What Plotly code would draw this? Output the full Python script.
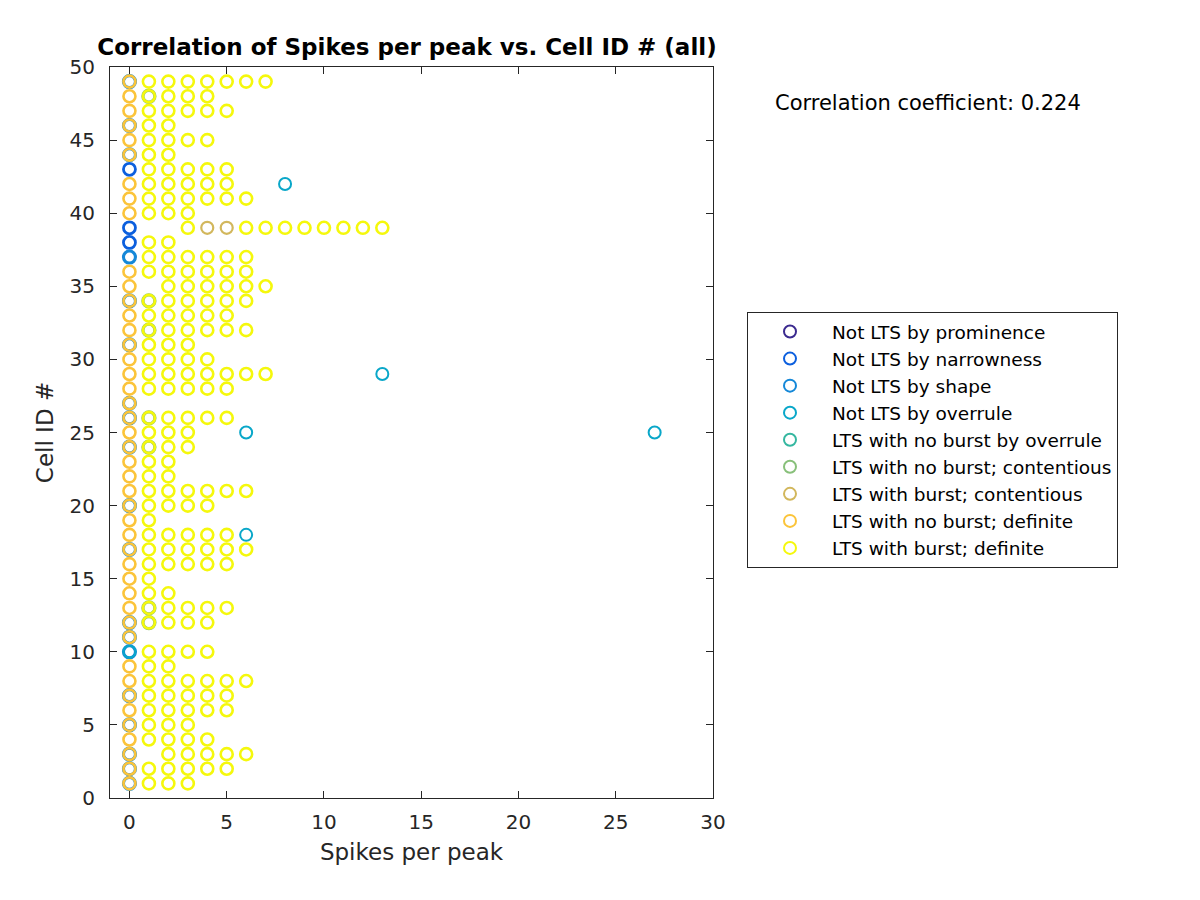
import plotly.graph_objects as go

# ---------------- data ----------------
category_names = [
    "Not LTS by prominence",
    "Not LTS by narrowness",
    "Not LTS by shape",
    "Not LTS by overrule",
    "LTS with no burst by overrule",
    "LTS with no burst; contentious",
    "LTS with burst; contentious",
    "LTS with no burst; definite",
    "LTS with burst; definite",
]
category_colors = ["#3b2a8f", "#0c5fde", "#1588d8", "#09a7c9", "#35b7a0",
                   "#88c07a", "#d2b75c", "#fbc43a", "#f5f80c"]

# Not LTS by prominence: none visible
prominence_x = []
prominence_id = []

# Not LTS by narrowness
narrowness_x = [0, 0, 0]
narrowness_id = [43, 39, 38]

# Not LTS by shape (mostly hidden under orange at x = 0)
shape_id = [1, 2, 3, 5, 7, 10, 11, 12, 17, 20, 24, 26, 27, 31, 34, 37, 44, 46, 49]
shape_x = [0] * len(shape_id)

# Not LTS by overrule
overrule_x = [8, 13, 6, 27, 6, 0]
overrule_id = [42, 29, 25, 25, 18, 10]

# LTS with no burst by overrule: none visible
lts_overrule_x = []
lts_overrule_id = []

# LTS with no burst; contentious
nb_contentious_id = [48, 34, 32, 26, 24, 13, 12]
nb_contentious_x = [1] * len(nb_contentious_id)

# LTS with burst; contentious
b_contentious_x = [4, 5]
b_contentious_id = [39, 39]

# LTS with no burst; definite (x = 0 column)
nb_definite_id = [i for i in range(1, 50) if i not in (10, 37, 38, 39, 43)]
nb_definite_x = [0] * len(nb_definite_id)

# LTS with burst; definite: spikes per peak values per cell ID
burst_definite_rows = {
    1: [1, 2, 3], 2: [1, 2, 3, 4, 5], 3: [2, 3, 4, 5, 6], 4: [1, 2, 3, 4],
    5: [1, 2, 3], 6: [1, 2, 3, 4, 5], 7: [1, 2, 3, 4, 5], 8: [1, 2, 3, 4, 5, 6],
    9: [1, 2], 10: [1, 2, 3, 4], 11: [], 12: [1, 2, 3, 4],
    13: [1, 2, 3, 4, 5], 14: [1, 2], 15: [1], 16: [1, 2, 3, 4, 5],
    17: [1, 2, 3, 4, 5, 6], 18: [1, 2, 3, 4, 5], 19: [1], 20: [1, 2, 3, 4],
    21: [1, 2, 3, 4, 5, 6], 22: [1, 2], 23: [1, 2], 24: [1, 2, 3],
    25: [1, 2, 3], 26: [1, 2, 3, 4, 5], 27: [], 28: [1, 2, 3, 4, 5],
    29: [1, 2, 3, 4, 5, 6, 7], 30: [1, 2, 3, 4], 31: [1, 2, 3],
    32: [1, 2, 3, 4, 5, 6], 33: [1, 2, 3, 4, 5], 34: [1, 2, 3, 4, 5, 6],
    35: [2, 3, 4, 5, 6, 7], 36: [1, 2, 3, 4, 5, 6], 37: [1, 2, 3, 4, 5, 6],
    38: [1, 2], 39: [3, 6, 7, 8, 9, 10, 11, 12, 13], 40: [1, 2, 3],
    41: [1, 2, 3, 4, 5, 6], 42: [1, 2, 3, 4, 5], 43: [1, 2, 3, 4, 5],
    44: [1, 2], 45: [1, 2, 3, 4], 46: [1, 2], 47: [1, 2, 3, 4, 5],
    48: [1, 2, 3, 4], 49: [1, 2, 3, 4, 5, 6, 7],
}
b_definite_x = [x for cid, xs in burst_definite_rows.items() for x in xs]
b_definite_id = [cid for cid, xs in burst_definite_rows.items() for x in xs]

correlation_text = "Correlation coefficient: 0.224"

# ---------------- figure ----------------
series = [
    (prominence_x, prominence_id),
    (narrowness_x, narrowness_id),
    (shape_x, shape_id),
    (overrule_x, overrule_id),
    (lts_overrule_x, lts_overrule_id),
    (nb_contentious_x, nb_contentious_id),
    (b_contentious_x, b_contentious_id),
    (nb_definite_x, nb_definite_id),
    (b_definite_x, b_definite_id),
]
line_widths = [2.5, 2.8, 3.1, 2.0, 2.0, 3.3, 2.2, 2.6, 2.6]

fig = go.Figure()
for name, color, lw, (xs, ys) in zip(category_names, category_colors, line_widths, series):
    fig.add_trace(go.Scatter(
        x=xs if xs else [None], y=ys if ys else [None],
        mode="markers", name=name,
        marker=dict(symbol="circle-open", size=12, color=color,
                    line=dict(width=lw, color=color)),
        cliponaxis=False,
    ))

font_family = "DejaVu Sans"
axis_common = dict(
    showline=True, linecolor="#262626", linewidth=1, mirror="allticks",
    ticks="inside", ticklen=7, tickcolor="#262626", showgrid=False,
    zeroline=False, tickfont=dict(family=font_family, size=20, color="#262626"),
)

# plot area in page pixels (page body adds an 8px offset)
L, R, T, B = 110, 713, 67, 798
OFF = 8
W = R - L
H = B - T

fig.update_layout(
    width=1200, height=900,
    paper_bgcolor="white", plot_bgcolor="white",
    margin=dict(l=L - OFF, r=1200 - (R - OFF), t=T - OFF, b=900 - (B - OFF)),
    font=dict(family=font_family, color="#262626"),
    title=dict(text="<b>Correlation of Spikes per peak vs. Cell ID # (all)</b>",
               x=(407 - L) / W, xref="paper", xanchor="center",
               y=1 - (47 - OFF) / 900, yref="container", yanchor="middle",
               font=dict(family=font_family, size=23, color="black")),
    xaxis=dict(range=[-1, 30], tickvals=[0, 5, 10, 15, 20, 25, 30],
               ticklabelstandoff=6,
               title=dict(text="Spikes per peak", standoff=10,
                          font=dict(family=font_family, size=23, color="#262626")),
               **axis_common),
    yaxis=dict(range=[0, 50], tickvals=[0, 5, 10, 15, 20, 25, 30, 35, 40, 45, 50],
               ticklabelstandoff=10,
               title=dict(text="Cell ID #", standoff=9,
                          font=dict(family=font_family, size=23, color="#262626")),
               **axis_common),
    legend=dict(x=(747 - L) / W, y=(B - 312) / H, xanchor="left", yanchor="top",
                bordercolor="#262626", borderwidth=1, bgcolor="white",
                font=dict(family=font_family, size=18.5, color="black"),
                itemwidth=74, itemsizing="constant"),
    showlegend=True,
)

fig.add_annotation(
    text=correlation_text, xref="paper", yref="paper",
    x=(928 - L) / W, y=(B - 103) / H, xanchor="center", yanchor="middle",
    showarrow=False, font=dict(family=font_family, size=21, color="black"),
)

fig.write_html("out.html")
